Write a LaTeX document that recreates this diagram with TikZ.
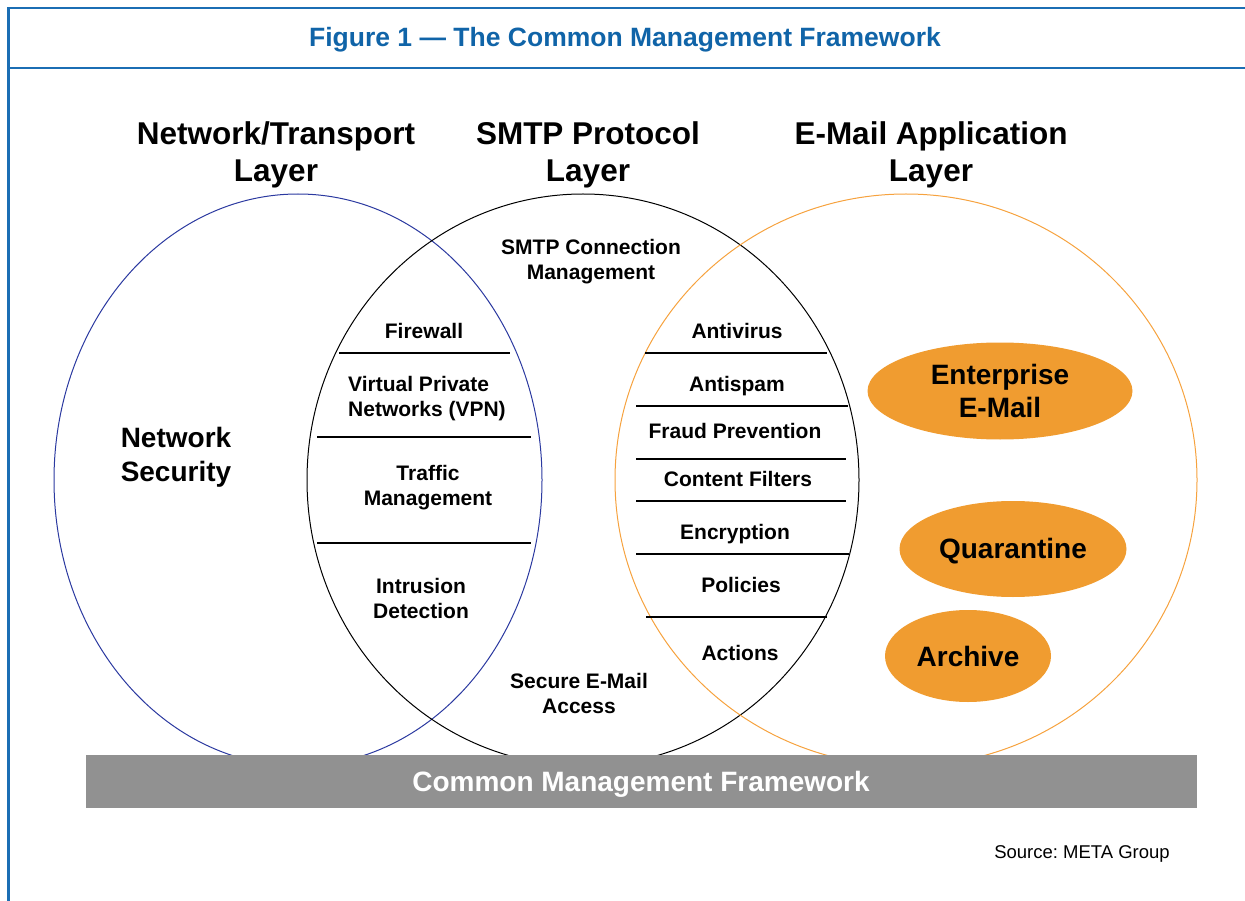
\documentclass[tikz,border=0pt]{standalone}
\usepackage{fontspec}
\setmainfont{Liberation Sans}
\usepackage{tikz}
\usetikzlibrary{shapes.geometric}
\frenchspacing

\definecolor{frameblue}{RGB}{27,110,180}
\definecolor{titleblue}{RGB}{16,100,168}
\definecolor{netblue}{RGB}{43,57,160}
\definecolor{ringorange}{RGB}{246,162,62}
\definecolor{fillorange}{RGB}{240,156,48}
\definecolor{bargray}{RGB}{145,145,145}

\begin{document}
\begin{tikzpicture}[x=1pt,y=-1pt]
	\path [use as bounding box] (0,0) rectangle (1245,901);
	\tikzstyle{every node} = [align=center, inner sep=0pt]
	\tikzstyle{frame} = [frameblue, line width=2.2pt]
	\tikzstyle{layer} = [font=\bfseries\fontsize{31.5}{37}\selectfont]
	\tikzstyle{item} = [font=\bfseries\fontsize{21}{25}\selectfont]
	\tikzstyle{store} = [ellipse, fill=fillorange, font=\bfseries\fontsize{28}{33}\selectfont]
	\tikzstyle{divider} = [line width=1.1pt]
	\coordinate (net) at (298,480);
	\coordinate (smtp) at (583,480);
	\coordinate (app) at (906,480);
	\draw[frame] (8.5,901) -- (8.5,8) -- (1245,8);
	\draw[frame] (8.5,68) -- (1245,68);
	\node[font=\bfseries\fontsize{26.5}{32}\selectfont, text=titleblue] (title) at (625,40) {Figure 1 — The Common Management Framework};
	\draw[netblue, line width=1pt] (net) ellipse [x radius=244, y radius=286];
	\draw[black, line width=1pt] (smtp) ellipse [x radius=276, y radius=286];
	\draw[ringorange, line width=1pt] (app) ellipse [x radius=291, y radius=286];
	\node[layer] (netlayer) at (276,155) {Network/Transport\\Layer};
	\node[layer] (smtplayer) at (588,155) {SMTP Protocol\\Layer};
	\node[layer] (applayer) at (931,155) {E-Mail Application\\Layer};
	\node[font=\bfseries\fontsize{28}{34}\selectfont] (netsec) at (176,457) {Network\\Security};
	\foreach \y/\a/\b in {353/339/510, 437/317/531, 543/317/531}
		\draw[divider] (\a,\y) -- (\b,\y);
	\node[item] (firewall) at (424,331) {Firewall};
	\node[item, align=left, anchor=west] (vpn) at (348,399) {Virtual Private\\Networks (VPN)};
	\node[item] (traffic) at (428,488) {Traffic\\Management};
	\node[item] (ids) at (421,598) {Intrusion\\Detection};
	\node[item] (conn) at (591,262) {SMTP Connection\\Management};
	\node[item] (access) at (579,693) {Secure E-Mail\\Access};
	\foreach \y/\a/\b in {353/645/827, 406/636/848, 459/636/846, 501/636/846, 554/636/849, 617/646/827}
		\draw[divider] (\a,\y) -- (\b,\y);
	\node[item] (antivirus) at (737,331) {Antivirus};
	\node[item] (antispam) at (737,386) {Antispam};
	\node[item] (fraud) at (735,431) {Fraud Prevention};
	\node[item] (content) at (738,479) {Content Filters};
	\node[item] (crypt) at (735,534) {Encryption};
	\node[item] (policies) at (741,585) {Policies};
	\node[item] (actions) at (740,653) {Actions};
	\node[store, minimum width=265, minimum height=97] (enterprise) at (1000,391) {Enterprise\\E-Mail};
	\node[store, minimum width=227, minimum height=96] (quarantine) at (1013,549) {};
	\node[font=\bfseries\fontsize{28}{33}\selectfont] (quarantinetext) at (1013,551) {Quarantine};
	\node[store, minimum width=166, minimum height=92] (archive) at (968,656) {Archive};
	\fill[bargray] (86,755) rectangle (1197,808);
	\node[font=\bfseries\fontsize{28}{34}\selectfont, text=white] (cmf) at (641,784) {Common Management Framework};
	\node[font=\fontsize{18.5}{22}\selectfont] (source) at (1082,854) {Source: META Group};
\end{tikzpicture}
\end{document}
